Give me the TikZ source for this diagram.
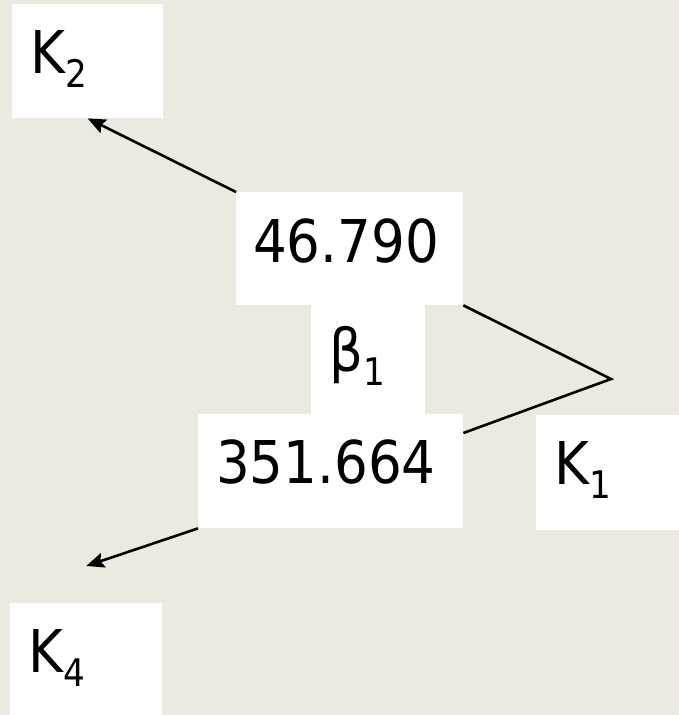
\documentclass[tikz,border=0pt]{standalone}
\usepackage{fontspec}
\setmainfont{DejaVu Sans Condensed}
\definecolor{slideBg}{HTML}{ECEAE0}
\usetikzlibrary{arrows.meta, positioning}
\newcommand\lowidx[1]{\raisebox{-14pt}{\fontsize{38}{38}\selectfont #1}}

\begin{document}
\begin{tikzpicture}[x=1pt, y=-1pt,
    whitebox/.style={fill=white, draw=none, inner sep=0pt, anchor=north west},
    boxtext/.style={inner sep=0pt, anchor=base west, font=\fontsize{59}{59}\selectfont},
    link/.style={line width=2.6pt},
    pointer/.style={link, -{Stealth[length=18pt, width=15pt, inset=3pt]}}]
  \useasboundingbox (0,0) rectangle (679,715);
  \fill[slideBg] (0,0) rectangle (679,715);
  % white boxes, the middle three join into one block
  \node[whitebox, minimum width=151pt, minimum height=114pt] (k2) at (12,4) {};
  \node[whitebox, minimum width=227pt, minimum height=113pt] (n46) at (236,192) {};
  \node[whitebox, minimum width=114pt, minimum height=110pt] (beta) at (311,304) {};
  \node[whitebox, minimum width=265pt, minimum height=114pt] (n351) at (198,414) {};
  \node[whitebox, minimum width=143pt, minimum height=115pt] (k1) at (536,415) {};
  \node[whitebox, minimum width=152pt, minimum height=112pt] (k4) at (10,603) {};
  % texts
  \node[boxtext] (k2txt) at ([shift={(18,69)}]k2.north west) {K\lowidx{2}};
  \node[boxtext] (n46txt) at ([shift={(17,70)}]n46.north west) {46.790};
  \node[boxtext] (betatxt) at ([shift={(18,67)}]beta.north west) {β\lowidx{1}};
  \node[boxtext] (n351txt) at ([shift={(18,69)}]n351.north west) {351.664};
  \node[boxtext] (k1txt) at ([shift={(18,69)}]k1.north west) {K\lowidx{1}};
  \node[boxtext] (k4txt) at ([shift={(18,69)}]k4.north west) {K\lowidx{4}};
  % connectors
  \coordinate (apex) at (611,379);
  \coordinate (tipFour) at ([yshift=37pt]k4.north);
  \draw[pointer] (n46.north west) -- (k2.south);
  \draw[link] (n46.south east) -- (apex) -- ([yshift=-19pt]n351.north east);
  \draw[pointer] (n351.south west) -- (tipFour);
\end{tikzpicture}
\end{document}
